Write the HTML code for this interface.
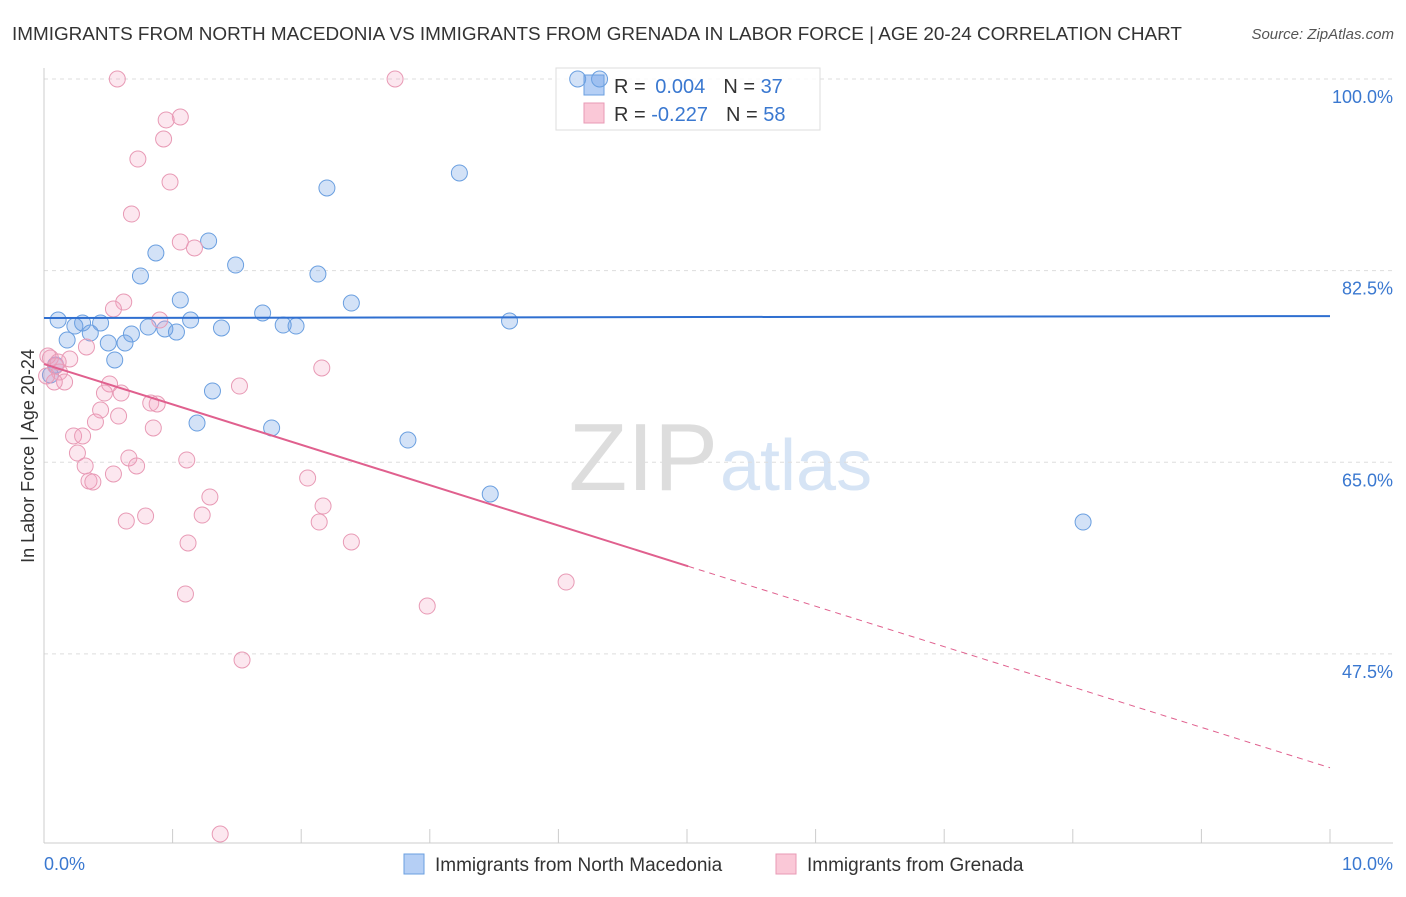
<!DOCTYPE html>
<html><head><meta charset="utf-8"><style>
body{margin:0;background:#fff;font-family:"Liberation Sans",sans-serif}
svg text{font-family:"Liberation Sans",sans-serif}
</style></head><body>
<svg id="c" width="1406" height="892" xmlns="http://www.w3.org/2000/svg">
<text x="12" y="40" font-size="18.9" fill="#333">IMMIGRANTS FROM NORTH MACEDONIA VS IMMIGRANTS FROM GRENADA IN LABOR FORCE | AGE 20-24 CORRELATION CHART</text>
<text x="1394" y="39" font-size="15" fill="#555" font-style="italic" text-anchor="end">Source: ZipAtlas.com</text>
<text x="718" y="490" font-size="96" fill="#ddd" text-anchor="end" font-family="Liberation Serif">ZIP</text>
<text x="720" y="490" font-size="72" fill="#d6e4f5">atlas</text>
<text transform="translate(34,456) rotate(-90)" font-size="18" fill="#333" text-anchor="middle">In Labor Force | Age 20-24</text>
<g id="grid"></g>
<g>
<rect x="556" y="68" width="264" height="62" fill="rgba(255,255,255,0.85)" stroke="#ddd"/>
<rect x="584" y="75" width="20" height="20" fill="#b5cff5" stroke="#6a9fe0"/>
<rect x="584" y="103" width="20" height="20" fill="#fac8d7" stroke="#e89ab5"/>
<text x="614" y="93" font-size="20" fill="#333">R = <tspan fill="#3a78d0" dx="4">0.004</tspan><tspan dx="18" fill="#333">N = </tspan><tspan fill="#3a78d0">37</tspan></text>
<text x="614" y="121" font-size="20" fill="#333">R = <tspan fill="#3a78d0">-0.227</tspan><tspan dx="18" fill="#333">N = </tspan><tspan fill="#3a78d0">58</tspan></text>
</g>
<g id="pts"></g><g id="trend"></g>
<g>
<rect x="404" y="854" width="20" height="20" fill="#b5cff5" stroke="#6a9fe0"/>
<text x="435" y="871" font-size="19" fill="#333">Immigrants from North Macedonia</text>
<rect x="776" y="854" width="20" height="20" fill="#fac8d7" stroke="#e89ab5"/>
<text x="807" y="871" font-size="19" fill="#333">Immigrants from Grenada</text>
</g>
</svg>
<script>
const yTicks=[100,82.5,65,47.5];
const yTickLabels=["100.0%","82.5%","65.0%","47.5%"];
const xTickLabels=["0.0%","10.0%"];
const blueX=[0.11,0.24,0.30,0.44,0.36,0.18,0.50,0.63,0.55,0.68,0.75,0.87,0.81,0.94,1.03,1.06,1.14,1.28,1.38,1.49,1.31,1.19,1.70,1.86,1.96,2.13,2.20,2.39,1.77,2.83,3.23,3.47,3.62,4.15,4.32,8.08,0.05,0.09];
const blueY=[77.99,77.44,77.72,77.72,76.80,76.16,75.89,75.89,74.34,76.71,82.01,84.11,77.35,77.17,76.89,79.82,77.99,85.21,77.26,83.01,71.51,68.58,78.63,77.53,77.44,82.19,90.05,79.54,68.13,67.03,91.42,62.10,77.90,100,100,59.54,72.97,73.88];
const pinkX=[0.57,2.73,1.06,0.95,0.93,0.73,0.98,0.68,1.06,1.17,0.62,0.54,0.90,0.33,0.20,0.05,0.09,0.12,0.16,0.08,0.51,0.47,0.60,1.52,2.16,0.44,0.83,0.88,0.40,0.58,0.85,0.23,0.30,0.26,0.32,0.66,1.11,0.72,0.54,0.35,0.38,1.29,2.05,2.17,1.23,0.79,0.64,2.14,2.39,1.12,4.06,1.10,2.98,1.54,1.37,0.03,0.11,0.02];
const pinkY=[100,100,96.53,96.26,94.52,92.69,90.59,87.67,85.11,84.57,79.63,79.00,77.99,75.53,74.43,74.52,73.79,73.24,72.33,72.33,72.15,71.32,71.32,71.96,73.61,69.77,70.41,70.32,68.68,69.22,68.13,67.40,67.40,65.84,64.66,65.39,65.21,64.66,63.93,63.29,63.20,61.83,63.56,61.00,60.18,60.09,59.63,59.54,57.72,57.63,54.06,52.97,51.87,46.94,31.05,74.70,74.16,72.88];
const blueTrend=[78.17,78.35];
const pinkTrend=[73.97,37.1];
const X=v=>44+v*128.6, Y=v=>79+(100-v)*10.95;
const NS="http://www.w3.org/2000/svg";
function mk(p,t,a){const e=document.createElementNS(NS,t);for(const k in a)e.setAttribute(k,a[k]);p.appendChild(e);return e;}
const g=document.getElementById('grid');
yTicks.forEach((t,i)=>{
 const l=mk(g,'line',{x1:44,x2:1393,y1:Y(t),y2:Y(t),stroke:'#ddd','stroke-dasharray':'4,4'});
 
 
 const tx=mk(g,'text',{x:1393,y:Y(t)+24,'font-size':18,fill:'#3a78d0','text-anchor':'end'});
 tx.textContent=yTickLabels[i];
 
 
});
const ax=mk(g,'line',{x1:44,x2:1393,y1:843,y2:843,stroke:'#ccc'});


const ay=mk(g,'line',{x1:44,x2:44,y1:68,y2:843,stroke:'#ccc'});


for(let i=0;i<=10;i++){const t=mk(g,'line',{x1:X(i),x2:X(i),y1:829,y2:843,stroke:'#ccc'});
 
 }
[[0,'start',44],[10,'end',1393]].forEach((d,i)=>{const t=mk(g,'text',{x:d[2],y:870,'font-size':18,fill:'#3a78d0','text-anchor':d[1]});t.textContent=xTickLabels[i];
 
 });
const p=document.getElementById('pts');
blueX.forEach((x,i)=>{const c=mk(p,'circle',{cx:X(x),cy:Y(blueY[i]),r:8,fill:'rgba(110,160,230,0.3)',stroke:'#6a9fe0','stroke-width':1});
 
 });
pinkX.forEach((x,i)=>{const c=mk(p,'circle',{cx:X(x),cy:Y(pinkY[i]),r:8,fill:'rgba(245,160,190,0.25)',stroke:'#e89ab5','stroke-width':1});
 
 });
const tr=document.getElementById('trend');
const b=mk(tr,'line',{x1:X(0),y1:Y(blueTrend[0]),x2:X(10),y2:Y(blueTrend[1]),stroke:'#2f6fd0','stroke-width':2});


const pm=v=>pinkTrend[0]+(pinkTrend[1]-pinkTrend[0])*v/10;
const p1=mk(tr,'line',{x1:X(0),y1:Y(pm(0)),x2:X(5.01),y2:Y(pm(5.01)),stroke:'#e0608e','stroke-width':2});


const p2=mk(tr,'line',{x1:X(5.01),y1:Y(pm(5.01)),x2:X(10),y2:Y(pm(10)),stroke:'#e0608e','stroke-width':1,'stroke-dasharray':'6,5'});


</script>
</body></html>
